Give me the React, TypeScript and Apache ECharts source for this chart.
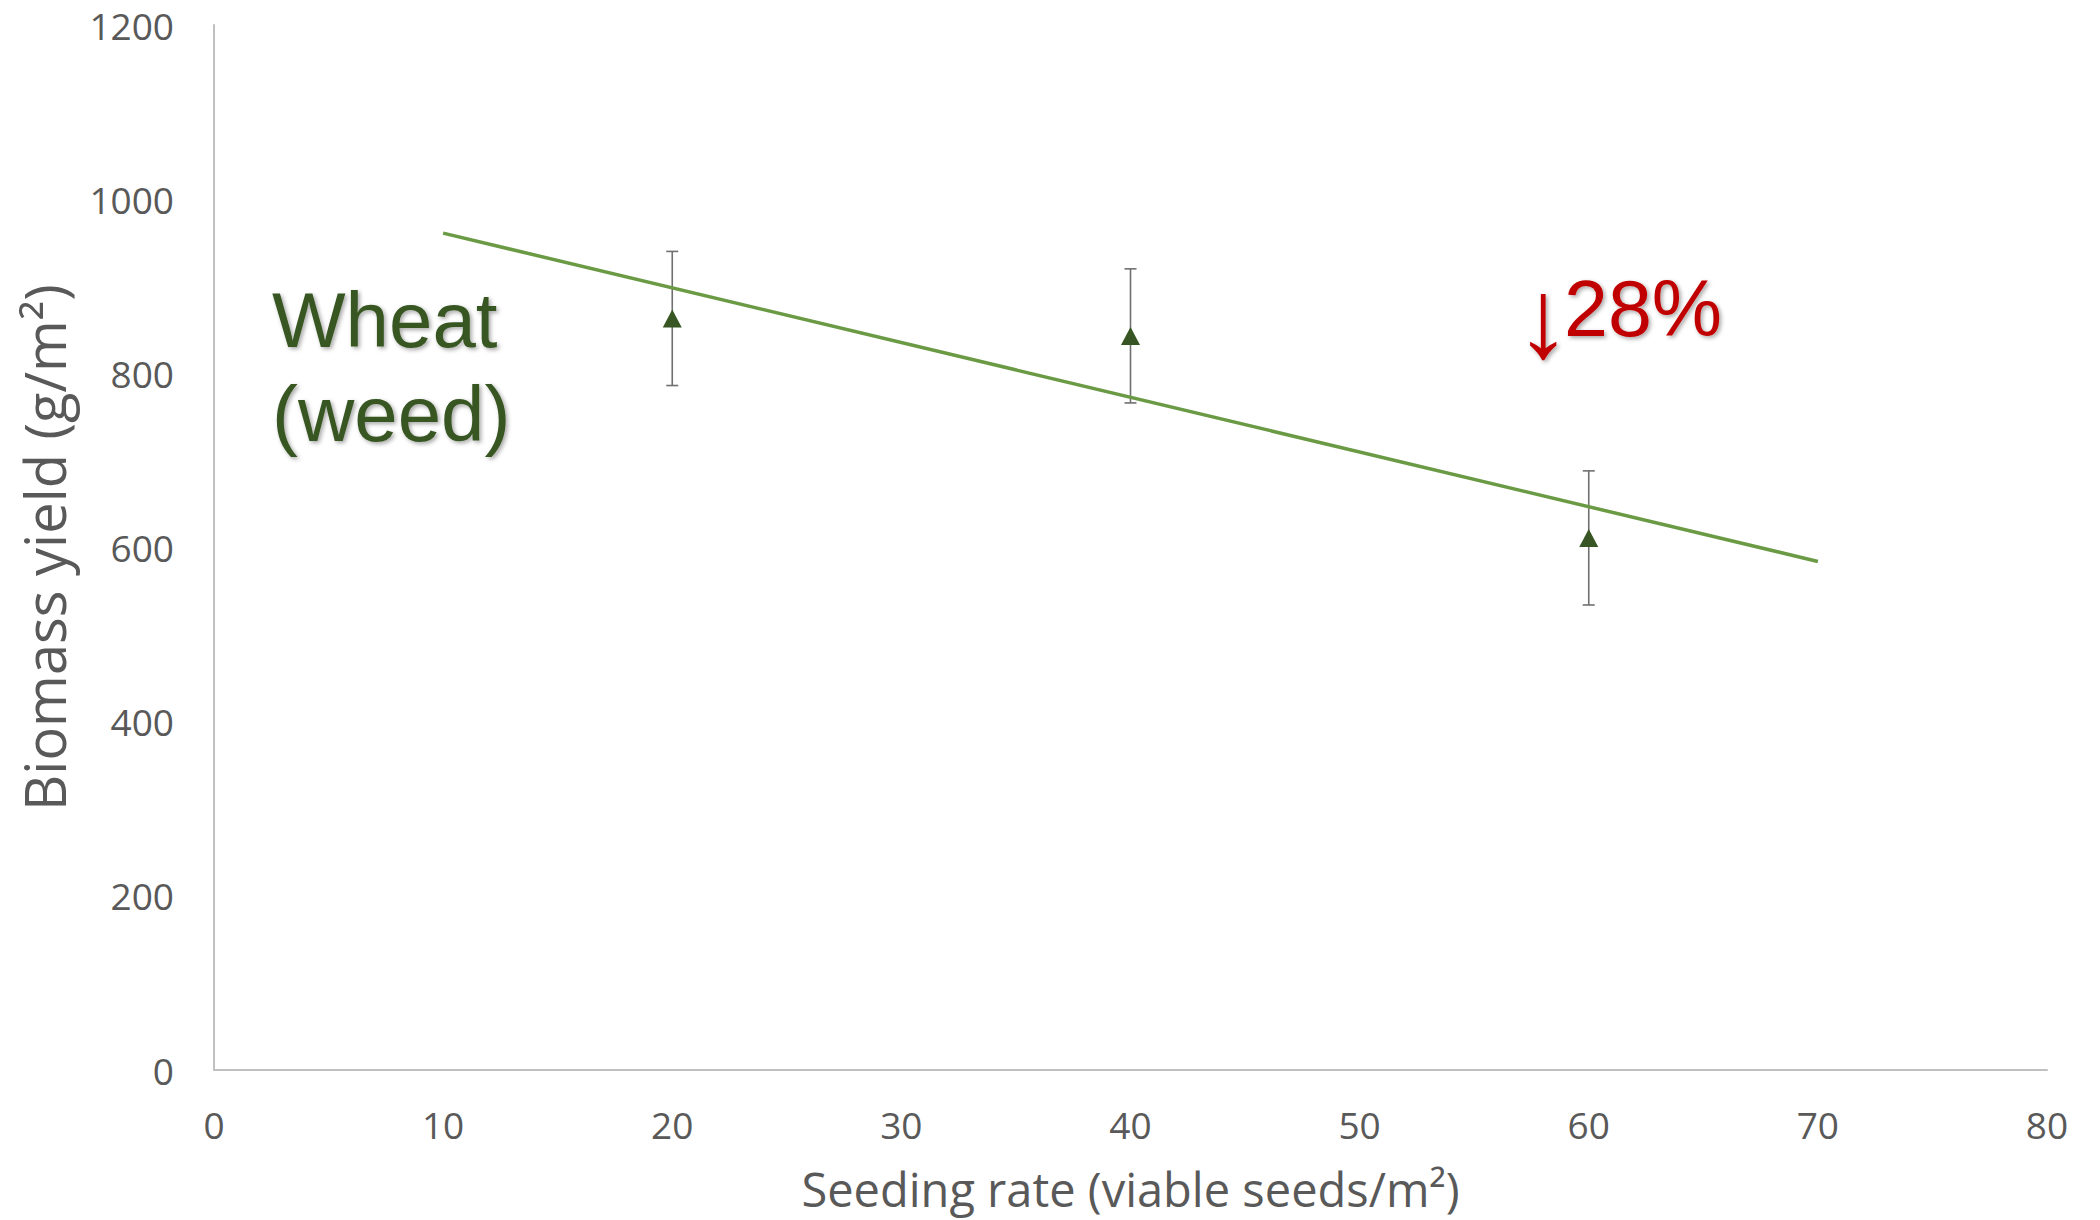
import React, { useEffect, useRef } from "react";
import * as echarts from "echarts";

// Data
const seedingRates = [20, 40, 60];
const biomassYield = [863, 843, 611];
const yieldError = [77, 77, 77];
const trendX = [10, 70];
const trendY = [961, 584];

const xAxisName = "Seeding rate (viable seeds/m²)";
const yAxisName = "Biomass yield (g/m²)";
const cropLabel = ["Wheat", "(weed)"];
const changeArrow = "↓";
const changeValue = "28%";

export default function App() {
  const ref = useRef<HTMLDivElement>(null);

  useEffect(() => {
    document.body.style.margin = "0";
    if (!ref.current) return;
    const chart = echarts.init(ref.current, null, { renderer: "svg" });

    const axisFont = "'Open Sans', sans-serif";
    const labelColor = "#595959";
    const axisLineColor = "#c0c0c0";
    const arial = "'Liberation Sans', Arial, sans-serif";

    const errData = seedingRates.map((x, i) => [x, biomassYield[i], yieldError[i]]);
    const pointData = seedingRates.map((x, i) => [x, biomassYield[i]]);
    const trendData = trendX.map((x, i) => [x, trendY[i]]);

    const textShadow = {
      textShadowColor: "rgba(0,0,0,0.35)",
      textShadowBlur: 4,
      textShadowOffsetX: 2,
      textShadowOffsetY: 2,
    };

    chart.setOption({
      animation: false,
      backgroundColor: "#ffffff",
      grid: { left: 214, right: 53, top: 25, bottom: 150, containLabel: false },
      xAxis: {
        type: "value",
        min: 0,
        max: 80,
        interval: 10,
        name: xAxisName,
        nameLocation: "middle",
        nameGap: 95,
        nameTextStyle: { fontFamily: axisFont, fontSize: 47, color: labelColor },
        axisLine: { show: true, lineStyle: { color: axisLineColor, width: 2 } },
        axisTick: { show: false },
        splitLine: { show: false },
        axisLabel: { fontFamily: axisFont, fontSize: 37, color: labelColor, margin: 36 },
      },
      yAxis: {
        type: "value",
        min: 0,
        max: 1200,
        interval: 200,
        name: yAxisName,
        nameLocation: "middle",
        nameGap: 142,
        nameTextStyle: { fontFamily: axisFont, fontSize: 56, color: labelColor },
        axisLine: { show: true, lineStyle: { color: axisLineColor, width: 2 } },
        axisTick: { show: false },
        splitLine: { show: false },
        axisLabel: {
          fontFamily: axisFont,
          fontSize: 37,
          color: labelColor,
          margin: 40,
          formatter: (v: number) => String(v),
        },
      },
      series: [
        {
          type: "custom",
          name: "error",
          z: 1,
          data: errData,
          encode: { x: 0, y: 1 },
          renderItem: (params: any, api: any) => {
            const x = api.value(0);
            const y = api.value(1);
            const e = api.value(2);
            const top = api.coord([x, y + e]);
            const bot = api.coord([x, y - e]);
            const hw = 6;
            const style = { stroke: "#707070", lineWidth: 1.6 };
            return {
              type: "group",
              children: [
                { type: "line", shape: { x1: top[0], y1: top[1], x2: bot[0], y2: bot[1] }, style },
                { type: "line", shape: { x1: top[0] - hw, y1: top[1], x2: top[0] + hw, y2: top[1] }, style },
                { type: "line", shape: { x1: bot[0] - hw, y1: bot[1], x2: bot[0] + hw, y2: bot[1] }, style },
              ],
            };
          },
        },
        {
          type: "line",
          name: "trend",
          z: 2,
          data: trendData,
          showSymbol: false,
          symbol: "none",
          lineStyle: { color: "#6b9a45", width: 3.5 },
        },
        {
          type: "scatter",
          name: "wheat",
          z: 3,
          data: pointData,
          symbol: "triangle",
          symbolSize: [19, 18],
          itemStyle: { color: "#375623", opacity: 1 },
        },
      ],
      graphic: [
        {
          type: "text",
          x: 272,
          y: 320,
          style: {
            text: cropLabel[0],
            fontFamily: arial,
            fontSize: 78,
            fill: "#375623",
            verticalAlign: "middle",
            ...textShadow,
          },
        },
        {
          type: "text",
          x: 272,
          y: 414,
          style: {
            text: cropLabel[1],
            fontFamily: arial,
            fontSize: 78,
            fill: "#375623",
            verticalAlign: "middle",
            ...textShadow,
          },
        },
        {
          type: "text",
          x: 1543,
          y: 318,
          style: {
            text: changeArrow,
            fontFamily: arial,
            fontSize: 112,
            fill: "#c00000",
            align: "center",
            verticalAlign: "middle",
            ...textShadow,
          },
        },
        {
          type: "text",
          x: 1564,
          y: 308,
          style: {
            text: changeValue,
            fontFamily: arial,
            fontSize: 79,
            fill: "#c00000",
            verticalAlign: "middle",
            ...textShadow,
          },
        },
      ],
    });

    return () => chart.dispose();
  }, []);

  return <div ref={ref} style={{ width: 2100, height: 1220 }} />;
}
